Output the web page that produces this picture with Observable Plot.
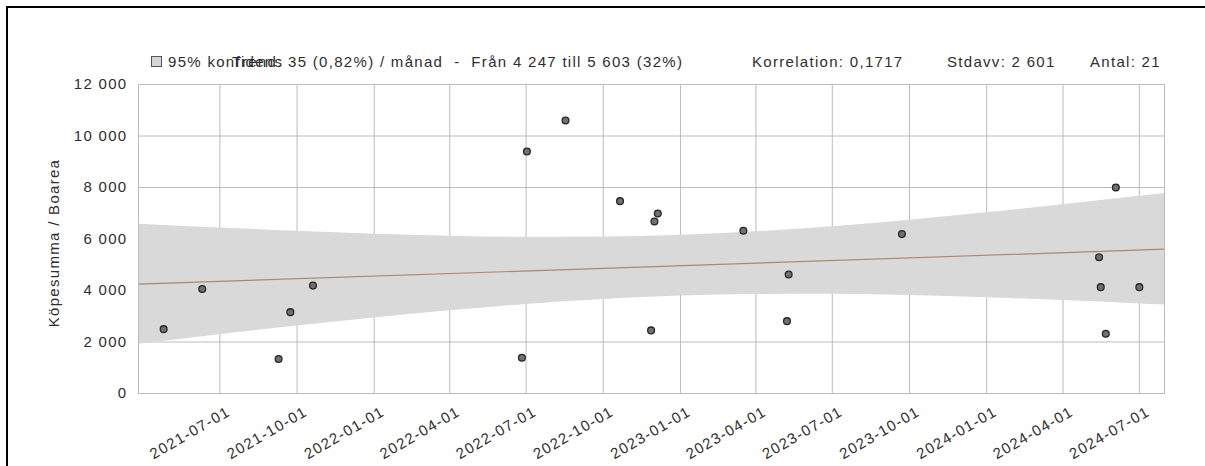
<!DOCTYPE html>
<html>
<head>
<meta charset="utf-8">
<script src="https://cdn.jsdelivr.net/npm/d3@7"></script>
<script src="https://cdn.jsdelivr.net/npm/@observablehq/plot@0.6"></script>
<style>
  html, body { margin: 0; padding: 0; background: #fff; overflow: hidden; }
  #wrap { position: relative; width: 1205px; height: 466px; overflow: hidden; background: #fff;
          font-family: "Liberation Sans", Arial, sans-serif; color: #333; }
  #border { position: absolute; left: 6px; top: 6px; width: 1199px; height: 460px;
            border-top: 2px solid #000; border-left: 2px solid #000; box-sizing: border-box; }
  #chart { position: absolute; left: 0; top: 0; }
  .leg { position: absolute; top: 53px; font-size: 15px; line-height: 17px; letter-spacing: 1.3px; white-space: pre; color: #2e2e2e; }
  #sq { position: absolute; left: 151px; top: 56px; width: 9px; height: 9px; background: #d4d4d4; border: 1px solid #555; }
</style>
</head>
<body>
<div id="wrap">
  <div id="border"></div>
  <div id="chart"></div>
  <div id="sq"></div>
  <div class="leg" id="legConf" style="left:168px">95% konfidens</div>
  <div class="leg" id="legTrend" style="left:232px">Trend: 35 (0,82%) / månad  -  Från 4 247 till 5 603 (32%)</div>
  <div class="leg" id="legKorr" style="left:752px">Korrelation: 0,1717</div>
  <div class="leg" id="legStd" style="left:947px">Stdavv: 2 601</div>
  <div class="leg" id="legAntal" style="left:1090px">Antal: 21</div>
</div>
<script>
// ---- data ----
const saleDates = ["2021-04-25","2021-06-10","2021-09-09","2021-09-23","2021-10-20",
  "2022-06-26","2022-07-02","2022-08-17","2022-10-21","2022-11-27","2022-12-01","2022-12-05",
  "2023-03-17","2023-05-08","2023-05-10","2023-09-22",
  "2024-05-14","2024-05-16","2024-05-22","2024-06-03","2024-07-01"];
const saleValues = [2500, 4060, 1340, 3160, 4190,
  1390, 9400, 10600, 7470, 2450, 6680, 6990,
  6320, 2810, 4620, 6190,
  5290, 4130, 2320, 8000, 4130];

const trendDates = ["2021-03-26", "2024-07-31"];
const trendValues = [4247, 5603];

const bandDates = ["2021-03-26","2021-07-01","2021-10-01","2022-01-01","2022-04-01","2022-07-01",
  "2022-10-01","2023-01-01","2023-04-01","2023-07-01","2023-10-01","2024-01-01","2024-04-01",
  "2024-07-01","2024-07-31"];
const bandLow  = [1917, 2282, 2618, 2933, 3209, 3456, 3651, 3784, 3848, 3850, 3803, 3716, 3608, 3480, 3435];
const bandHigh = [6577, 6428, 6298, 6189, 6111, 6066, 6073, 6142, 6278, 6478, 6729, 7022, 7330, 7660, 7771];

const xTickLabels = ["2021-07-01","2021-10-01","2022-01-01","2022-04-01","2022-07-01","2022-10-01",
  "2023-01-01","2023-04-01","2023-07-01","2023-10-01","2024-01-01","2024-04-01","2024-07-01"];
const yTickValues = [0, 2000, 4000, 6000, 8000, 10000, 12000];
const xDomain = ["2021-03-26", "2024-07-31"];
const yLabel = "Köpesumma / Boarea";

// ---- build tables ----
const parse = d3.utcParse("%Y-%m-%d");
const points = saleDates.map((d, i) => ({date: parse(d), value: saleValues[i]}));
const trend = trendDates.map((d, i) => ({date: parse(d), value: trendValues[i]}));
const band = bandDates.map((d, i) => ({date: parse(d), lo: bandLow[i], hi: bandHigh[i]}));
const xTicks = xTickLabels.map(parse);
const fmtY = d => d3.format(",")(d).replace(/,/g, " ");
const gridColor = "#bcbcbc";

const chart = Plot.plot({
  width: 1205,
  height: 466,
  marginLeft: 138,
  marginRight: 41,
  marginTop: 84,
  marginBottom: 73,
  style: {fontFamily: "'Liberation Sans', Arial, sans-serif", fontSize: "15px", letterSpacing: "1.3px",
          color: "#2e2e2e", background: "transparent", overflow: "visible"},
  x: {type: "utc", domain: xDomain.map(parse)},
  y: {domain: [0, 12000]},
  marks: [
    Plot.gridX(xTicks, {stroke: gridColor, strokeOpacity: 1}),
    Plot.gridY(yTickValues, {stroke: gridColor, strokeOpacity: 1}),
    Plot.areaY(band, {x: "date", y1: "lo", y2: "hi", fill: "#d9d9d9", curve: "monotone-x"}),
    Plot.line(trend, {x: "date", y: "value", stroke: "#a88a72", strokeWidth: 1.2}),
    Plot.frame({stroke: gridColor}),
    Plot.axisY({ticks: yTickValues, tickFormat: fmtY, tickSize: 0, tickPadding: 11, label: null, fill: "#2e2e2e"}),
    Plot.axisX({ticks: xTicks, tickFormat: d3.utcFormat("%Y-%m-%d"), tickSize: 0, tickRotate: -30,
                tickPadding: 17, dx: 9, label: null, fill: "#2e2e2e"}),
    Plot.text([yLabel], {frameAnchor: "left", textAnchor: "middle", dx: -84, dy: 4, rotate: -90, text: d => d, fill: "#2e2e2e"}),
    Plot.dot(points, {x: "date", y: "value", r: 3.4, fill: "#707070", stroke: "#262626", strokeWidth: 1.3})
  ]
});
document.getElementById("chart").appendChild(chart);
</script>
</body>
</html>
